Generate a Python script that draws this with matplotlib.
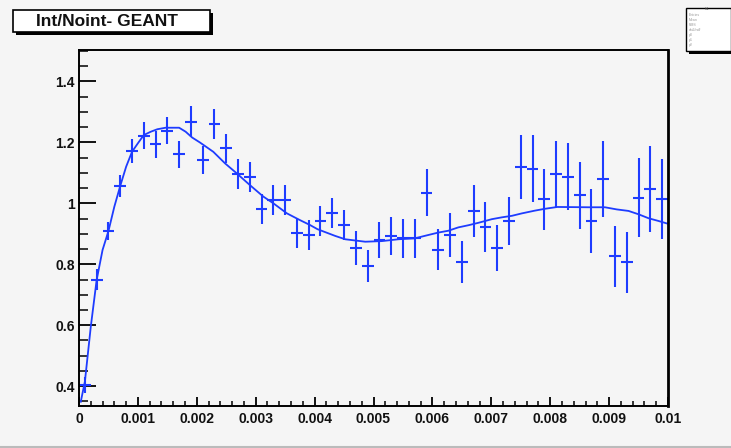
import matplotlib
matplotlib.use('Agg')
import matplotlib.pyplot as plt
from matplotlib.patches import Rectangle

blue = '#1e3cff'
bg = '#f5f5f5'

# bin centres (0.0002 wide bins) and measured ratio with errors
xbins = [0.0001, 0.0003, 0.0005, 0.0007, 0.0009, 0.0011, 0.0013, 0.0015, 0.0017, 0.0019,
         0.0021, 0.0023, 0.0025, 0.0027, 0.0029, 0.0031, 0.0033, 0.0035, 0.0037, 0.0039,
         0.0041, 0.0043, 0.0045, 0.0047, 0.0049, 0.0051, 0.0053, 0.0055, 0.0057, 0.0059,
         0.0061, 0.0063, 0.0065, 0.0067, 0.0069, 0.0071, 0.0073, 0.0075, 0.0077, 0.0079,
         0.0081, 0.0083, 0.0085, 0.0087, 0.0089, 0.0091, 0.0093, 0.0095, 0.0097, 0.0099]
ratio = [0.404, 0.749, 0.909, 1.057, 1.172, 1.222, 1.194, 1.238, 1.161, 1.268,
         1.142, 1.260, 1.180, 1.096, 1.087, 0.981, 1.011, 1.011, 0.902, 0.896,
         0.942, 0.969, 0.929, 0.854, 0.794, 0.880, 0.893, 0.885, 0.885, 1.035,
         0.848, 0.896, 0.807, 0.975, 0.921, 0.854, 0.942, 1.120, 1.113, 1.014,
         1.096, 1.087, 1.027, 0.942, 1.080, 0.827, 0.807, 1.019, 1.047, 1.014]
rerr = [0.025, 0.035, 0.030, 0.036, 0.040, 0.044, 0.044, 0.044, 0.044, 0.050,
        0.046, 0.050, 0.048, 0.048, 0.050, 0.048, 0.050, 0.048, 0.050, 0.050,
        0.050, 0.050, 0.050, 0.055, 0.053, 0.058, 0.063, 0.063, 0.063, 0.078,
        0.068, 0.072, 0.070, 0.086, 0.082, 0.075, 0.080, 0.105, 0.110, 0.100,
        0.110, 0.110, 0.110, 0.105, 0.125, 0.100, 0.100, 0.130, 0.140, 0.130]

# fitted function sampled along x
fitx = [0.00003, 0.0001, 0.0002, 0.0003, 0.0004, 0.0005, 0.0006, 0.0007, 0.0008, 0.0009,
        0.001, 0.0011, 0.00122, 0.00133, 0.00147, 0.0017, 0.00181, 0.00192, 0.00205, 0.00228,
        0.00248, 0.00268, 0.0029, 0.00313, 0.0033, 0.00353, 0.00375, 0.00392, 0.00405, 0.00435,
        0.00452, 0.00486, 0.00514, 0.00542, 0.0057, 0.00593, 0.0061, 0.00627, 0.00644, 0.00661,
        0.00678, 0.00701, 0.00718, 0.00735, 0.00752, 0.00774, 0.00791, 0.00812, 0.00865, 0.00893,
        0.00913, 0.00933, 0.0095, 0.00967, 0.00984, 0.00998]
fity = [0.349, 0.415, 0.595, 0.749, 0.847, 0.909, 0.989, 1.057, 1.120, 1.169,
        1.197, 1.224, 1.235, 1.243, 1.248, 1.248, 1.235, 1.216, 1.200, 1.169,
        1.131, 1.098, 1.060, 1.022, 1.000, 0.967, 0.945, 0.929, 0.915, 0.893,
        0.882, 0.874, 0.876, 0.882, 0.885, 0.896, 0.904, 0.910, 0.921, 0.928,
        0.936, 0.948, 0.954, 0.959, 0.967, 0.976, 0.982, 0.988, 0.987, 0.987,
        0.980, 0.975, 0.964, 0.951, 0.942, 0.934]

xticks = [0, 0.001, 0.002, 0.003, 0.004, 0.005, 0.006, 0.007, 0.008, 0.009, 0.01]
xlabels = ['0', '0.001', '0.002', '0.003', '0.004', '0.005', '0.006', '0.007', '0.008', '0.009', '0.01']
yticks = [0.4, 0.6, 0.8, 1.0, 1.2, 1.4]
ylabels = ['0.4', '0.6', '0.8', '1', '1.2', '1.4']

W, H = 731, 448
fig = plt.figure(figsize=(W / 100, H / 100), dpi=100, facecolor=bg)
plt.rcParams['font.family'] = ['Liberation Sans', 'DejaVu Sans']

def px(x0, y0, x1, y1):
    # pixel box (top-left origin) -> figure fraction rect
    return [x0 / W, 1 - y1 / H, (x1 - x0) / W, (y1 - y0) / H]

ax = fig.add_axes(px(79, 50, 668, 406))
ax.set_facecolor(bg)

ax.errorbar(xbins, ratio, xerr=0.0001, yerr=rerr, fmt='none', ecolor=blue,
            elinewidth=1.5, capsize=0)
ax.plot(fitx, fity, color=blue, lw=1.3)

ax.set_xlim(0, 0.01)
ax.set_ylim(0.335, 1.503)
ax.set_xticks(xticks)
ax.set_xticklabels(xlabels)
ax.set_yticks(yticks)
ax.set_yticklabels(ylabels)
ax.set_xticks([i * 0.0002 for i in range(51)], minor=True)
ax.set_yticks([0.35 + i * 0.05 for i in range(24)], minor=True)

for lab in ax.get_xticklabels() + ax.get_yticklabels():
    lab.set_fontweight('bold')
    lab.set_fontsize(10)
    lab.set_color('#111111')

ax.tick_params(axis='y', which='major', direction='in', length=12.2, width=1.3, pad=3)
ax.tick_params(axis='y', which='minor', direction='in', length=6.5, width=1.1)
ax.tick_params(axis='x', which='major', direction='in', length=6.7, width=1.3, pad=4)
ax.tick_params(axis='x', which='minor', direction='in', length=3.6, width=1.1)
ax.tick_params(top=False, right=False, which='both')
for s in ax.spines.values():
    s.set_linewidth(1.4)
ax.spines['right'].set_linewidth(2.0)

# title box with drop shadow
fig.patches.append(Rectangle((15.5 / W, 1 - 35 / H), 197 / W, 22 / H,
                             transform=fig.transFigure, facecolor='black', edgecolor='none'))
fig.patches.append(Rectangle((12.5 / W, 1 - 32 / H), 197 / W, 22 / H,
                             transform=fig.transFigure, facecolor='white', edgecolor='black', lw=1.2))
fig.text(107 / W, 1 - 21.5 / H, 'Int/Noint- GEANT', ha='center', va='center',
         fontsize=12.5, fontweight='bold', color='#111111')

# stats box in the corner
fig.patches.append(Rectangle((689 / W, 1 - 54 / H), 45 / W, 43 / H,
                             transform=fig.transFigure, facecolor='black', edgecolor='none'))
fig.patches.append(Rectangle((686 / W, 1 - 51 / H), 45 / W, 43 / H,
                             transform=fig.transFigure, facecolor='white', edgecolor='black', lw=1.0))
fig.text(707 / W, 1 - 9 / H, 'h1', ha='center', va='center', fontsize=3, color='#555555')
stat_names = ['Entries', 'Mean', 'RMS', 'chi2/ndf', 'p0', 'p1', 'p2']
for i, name in enumerate(stat_names):
    fig.text(689 / W, 1 - (15 + i * 5) / H, name, fontsize=2.5, color='#999999', va='center')

# canvas edge along the bottom
fig.add_artist(plt.Line2D([0, 1], [1.5 / H, 1.5 / H], color='#bbbbbb', lw=1.5,
                          transform=fig.transFigure))

fig.savefig('out.png', dpi=100, facecolor=bg)
